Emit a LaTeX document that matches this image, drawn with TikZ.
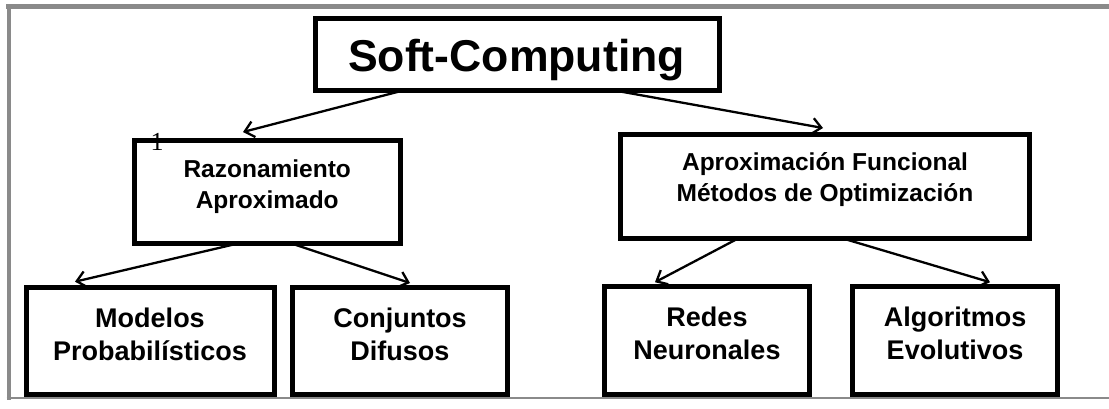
\documentclass[tikz,border=0pt]{standalone}
\usepackage{fontspec}
\setmainfont{Liberation Sans}
\newfontfamily\serifnum{Liberation Serif}
\usetikzlibrary{arrows.meta}
\definecolor{framegray}{RGB}{138,138,138}
\begin{document}
\begin{tikzpicture}[x=1pt,y=-1pt,
  box/.style={draw, line width=5pt, inner sep=0pt, outer sep=0pt},
  lbl/.style={inner sep=0pt, outer sep=0pt, anchor=base},
  bigtxt/.style={lbl, font=\fontsize{44.6}{53}\selectfont\bfseries},
  midtxt/.style={lbl, font=\fontsize{24.5}{31}\selectfont\bfseries},
  lowtxt/.style={lbl, font=\fontsize{27}{33}\selectfont\bfseries},
  arr/.style={line width=2.3pt, -{Straight Barb[length=9pt,width=16pt]}},
  framel/.style={draw=framegray}]
\useasboundingbox (0,0) rectangle (1109,408);
\fill[white] (0,0) rectangle (1109,408);
\clip (0,0) rectangle (1109,408);
% frame
\draw[framel, line width=4.5pt] (1115,6.5) -- (6.25,6.5);
\draw[framel, line width=4pt] (8.5,4.25) -- (8.5,399.5);
\draw[framel, line width=2.5pt] (6.5,398) -- (1115,398);
% boxes
\node[box, minimum width=404pt, minimum height=71.5pt] (soft) at (517.5,54.25) {};
\node[box, minimum width=266.5pt, minimum height=102.5pt] (raz) at (267.25,191.75) {};
\node[box, minimum width=409pt, minimum height=104.5pt] (apr) at (825,186.25) {};
\node[box, minimum width=248pt, minimum height=106.5pt] (mod) at (150,340.75) {};
\node[box, minimum width=215pt, minimum height=106.5pt] (con) at (400,340.75) {};
\node[box, minimum width=205pt, minimum height=108pt] (red) at (707,340) {};
\node[box, minimum width=205pt, minimum height=108pt] (alg) at (955,340) {};
% texts
\node[bigtxt] (softT) at (516.5,71) {Soft-Computing};
\node[midtxt] (razT) at (267.25,177) {\begin{tabular}[t]{@{}c@{}}Razonamiento\\Aproximado\end{tabular}};
\node[midtxt] (aprT) at (825,170) {\begin{tabular}[t]{@{}c@{}}Aproximación Funcional\\Métodos de Optimización\end{tabular}};
\node[lowtxt] (modT) at (150,327) {\begin{tabular}[t]{@{}c@{}}Modelos\\Probabilísticos\end{tabular}};
\node[lowtxt] (conT) at (400,327) {\begin{tabular}[t]{@{}c@{}}Conjuntos\\Difusos\end{tabular}};
\node[lowtxt] (redT) at (707,326) {\begin{tabular}[t]{@{}c@{}}Redes\\Neuronales\end{tabular}};
\node[lowtxt] (algT) at (955,326) {\begin{tabular}[t]{@{}c@{}}Algoritmos\\Evolutivos\end{tabular}};
\node[lbl, font=\serifnum\fontsize{26}{28}\selectfont] (one) at (157,150) {1};
% connectors
\draw[arr] ([xshift=89.5pt]soft.south west) -- ([xshift=109pt,yshift=8.5pt]raz.north west);
\draw[arr] ([xshift=296.5pt]soft.south west) -- ([xshift=202.5pt,yshift=6pt]apr.north west);
\draw[arr] ([xshift=106pt]raz.south west) -- ([xshift=49pt,yshift=5.8pt]mod.north west);
\draw[arr] ([xshift=156pt]raz.south west) -- ([xshift=117.5pt,yshift=4.5pt]con.north west);
\draw[arr] ([xshift=117.5pt]apr.south west) -- ([xshift=50.5pt,yshift=3.8pt]red.north west);
\draw[arr] ([xshift=222.5pt]apr.south west) -- ([xshift=137.5pt,yshift=3.8pt]alg.north west);
\end{tikzpicture}
\end{document}
